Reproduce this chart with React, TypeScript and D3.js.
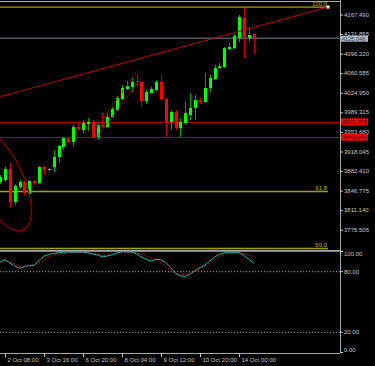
import React from 'react'
import * as d3 from 'd3'

// 4H candles, index 0 = the partly visible bar at the left edge
const opens = [3863.4, 3867.1, 3887.1, 3827.0, 3854.3, 3863.4, 3841.6, 3865.3, 3861.6, 3890.7, 3885.3, 3890.7, 3909.0, 3927.2, 3941.7, 3936.2, 3963.6, 3958.1, 3969.0, 3972.7, 3945.4, 3967.2, 3963.6, 3981.8, 3994.5, 4014.5, 4032.8, 4036.4, 4047.3, 4045.5, 4010.9, 4025.5, 4030.9, 4045.5, 4014.5, 3972.7, 3990.9, 3961.7, 3970.8, 3985.4, 3998.2, 4012.7, 4009.1, 4034.6, 4051.0, 4071.0, 4072.8, 4105.6, 4107.4, 4125.6, 4162.0, 4125.6, 4132.9]
const highs = [3876.3, 3890.7, 3898.0, 3859.8, 3867.1, 3865.3, 3867.1, 3867.1, 3892.6, 3892.6, 3888.9, 3921.7, 3930.8, 3945.4, 3945.4, 3967.2, 3970.8, 3976.3, 3980.0, 3976.3, 3970.8, 3989.1, 3987.3, 4000.0, 4020.0, 4040.0, 4047.3, 4052.8, 4060.1, 4047.3, 4030.9, 4036.4, 4049.2, 4058.3, 4016.4, 3994.5, 3994.5, 3980.0, 4009.1, 4025.5, 4021.8, 4016.4, 4061.9, 4058.3, 4076.5, 4080.1, 4109.2, 4116.5, 4132.9, 4167.5, 4180.2, 4145.6, 4133.5]
const lows = [3859.8, 3863.4, 3817.9, 3821.6, 3850.7, 3839.8, 3839.8, 3858.0, 3859.8, 3876.3, 3883.4, 3881.6, 3898.0, 3921.7, 3934.4, 3927.2, 3958.1, 3952.6, 3956.3, 3943.5, 3939.9, 3961.7, 3961.7, 3980.0, 3992.7, 4012.7, 4030.9, 4027.3, 4036.4, 4000.0, 4005.4, 4023.7, 4029.1, 4012.7, 3945.4, 3958.1, 3958.1, 3945.4, 3967.2, 3976.3, 3976.3, 4005.4, 4007.3, 4027.3, 4049.2, 4069.2, 4071.0, 4103.8, 4105.6, 4118.3, 4089.2, 4118.3, 4096.5]
const closes = [3872.5, 3887.1, 3827.0, 3856.2, 3863.4, 3843.4, 3865.3, 3861.6, 3890.7, 3885.3, 3887.1, 3909.0, 3929.0, 3943.5, 3936.2, 3963.6, 3959.9, 3970.8, 3972.7, 3945.4, 3967.2, 3965.4, 3981.8, 3996.3, 4016.4, 4034.6, 4038.2, 4045.5, 4045.5, 4010.9, 4027.3, 4032.8, 4045.5, 4014.5, 3972.7, 3990.9, 3961.7, 3972.7, 3989.1, 3998.2, 4012.7, 4009.1, 4034.6, 4052.8, 4071.0, 4074.6, 4107.4, 4109.2, 4129.3, 4163.8, 4125.6, 4131.1, 4125.046]

// stochastic oscillator
const stochMain = [89.6, 91.9, 88.6, 85.6, 83.2, 85.1, 86.3, 86.3, 91.1, 95.5, 97.2, 98.1, 98.7, 99.3, 99.5, 99.3, 99.3, 99.5, 98.7, 97.5, 96.5, 94.6, 95.5, 96.8, 98.5, 100, 99.5, 99.5, 97.5, 94.6, 92.3, 90.6, 92.1, 91.9, 88.9, 84.2, 78.2, 75.7, 75.4, 77.7, 81.2, 84.2, 86.6, 90.6, 94.6, 97.2, 98.8, 98.8, 98.8, 98.8, 96.0, 92.6, 88.3]
const stochSignal = [89.6, 90.6, 89.9, 87.6, 85.3, 84.4, 85.3, 86.9, 88.6, 91.6, 94.6, 96.5, 97.5, 98.0, 98.8, 99.2, 99.2, 99.0, 98.5, 98.0, 97.5, 96.0, 96.0, 97.2, 98.5, 99.0, 99.5, 99.5, 98.8, 97.0, 95.2, 93.6, 92.1, 89.1, 85.1, 81.2, 78.4, 77.0, 77.2, 78.7, 80.7, 83.0, 85.6, 88.6, 91.9, 95.0, 97.5, 98.8, 99.0, 99.0, 98.0, 96.5, 93.6]

const timeLabels = ['2 Oct 08:00', '3 Oct 16:00', '6 Oct 20:00', '8 Oct 04:00', '9 Oct 12:00', '10 Oct 20:00', '14 Oct 00:00']
const timeLabelBars = [1, 9, 17, 25, 33, 41, 49]

const priceTicks = [4167.49, 4131.855, 4096.22, 4060.585, 4024.95, 3989.315, 3953.68, 3918.045, 3882.41, 3846.775, 3811.14, 3775.505]
const stochTicks = [100, 80, 20, 0]
const stochDotted = [80, 20]

const redLines = [3973.255, 3945.043]
const fibLevels = [100, 61.8, 50]
const fibHigh = 4182.0
const fibLow = 3302.8
const fibEndBar = 67.26

// drawn objects, [bar, price]
const trendLine = [[0, 4018.7], [67.26, 4182.0]]
const channelUpper = [[18.64, 3947.2], [28.08, 4065.5]]
const channelLower = [[19.26, 3938.1], [29.1, 4054.6]]
const ellipseCenter = [0, 3867.1]

const axisX = 340
const font = 'Liberation Sans'

export default function App() {
  const x = d3.scaleLinear().domain([0, 52]).range([0.1, 253.6])
  const y = d3.scaleLinear().domain([3775.505, 4167.49]).range([230.3, 15])
  const sy = d3.scaleLinear().domain([0, 100]).range([352.5, 251.5])

  const stochPath = d3.line<number>().x((_, i) => x(i)).y(d => sy(d))
  const fibPrice = (lvl: number) => fibLow + (fibHigh - fibLow) * lvl / 100

  const candles = opens.map((o, i) => {
    const c = closes[i]
    const up = c >= o
    const cx = Math.round(x(i))
    const top = y(Math.max(o, c))
    const h = Math.max(1, Math.abs(y(o) - y(c)))
    return (
      <g key={i}>
        <line x1={cx + 0.5} x2={cx + 0.5} y1={y(highs[i])} y2={y(lows[i])}
          stroke={up ? '#00a800' : '#d00000'} strokeWidth={1} />
        <rect x={cx - 1} y={top} width={3} height={h} fill={up ? '#00ff00' : '#ff0000'} />
      </g>
    )
  })

  const seg = (p: number[][], color: string, w: number) => (
    <line x1={x(p[0][0])} y1={y(p[0][1])} x2={x(p[1][0])} y2={y(p[1][1])} stroke={color} strokeWidth={w} />
  )

  const bidY = y(closes[closes.length - 1])

  return (
    <div style={{ position: 'fixed', left: 0, top: 0 }}>
      <svg width={375} height={366} style={{ display: 'block', background: '#000' }} fontFamily={font}>
        <rect width={375} height={366} fill="#000" />

        {/* frame */}
        <line x1={0} x2={axisX} y1={1.5} y2={1.5} stroke="#a8a8a8" strokeWidth={1} />
        <line x1={axisX + 0.5} x2={axisX + 0.5} y1={0} y2={353} stroke="#a8a8a8" strokeWidth={1} />
        <line x1={0} x2={axisX} y1={353.5} y2={353.5} stroke="#a8a8a8" strokeWidth={1} />

        {/* horizontal lines */}
        {redLines.map(p => (
          <line key={p} x1={0} x2={axisX} y1={Math.round(y(p)) + 0.5} y2={Math.round(y(p)) + 0.5} stroke="#b00000" strokeWidth={1} />
        ))}
        <line x1={0} x2={axisX} y1={bidY} y2={bidY} stroke="#4e5864" strokeWidth={1.6} />

        {/* fibonacci levels */}
        {fibLevels.map(l => {
          const fy = y(fibPrice(l))
          return (
            <g key={l}>
              <line x1={0} x2={x(fibEndBar)} y1={fy} y2={fy} stroke="#a3a300" strokeWidth={1.3} />
              <text x={x(fibEndBar) - 1} y={fy - 1.5} fontSize={6} fill="#b8b800" textAnchor="end">{l.toFixed(1)}</text>
            </g>
          )
        })}

        {candles}

        {/* drawn objects */}
        {seg(trendLine, '#c00000', 1)}
        {seg(channelUpper, '#a00000', 0.8)}
        {seg(channelLower, '#a00000', 0.8)}
        <ellipse cx={x(ellipseCenter[0])} cy={y(ellipseCenter[1])} rx={23} ry={55}
          transform={`rotate(-25 ${x(ellipseCenter[0])} ${y(ellipseCenter[1])})`}
          fill="none" stroke="#900000" strokeWidth={1.3} />
        <rect x={x(trendLine[1][0]) - 1.5} y={y(trendLine[1][1]) - 1.5} width={3} height={3} fill="#fff" stroke="#ff4040" strokeWidth={0.5} />

        {/* separator */}
        <line x1={0} x2={axisX} y1={250.8} y2={250.8} stroke="#a8a8a8" strokeWidth={1.8} />

        {/* stochastic */}
        {stochDotted.map(l => (
          <line key={l} x1={0} x2={axisX} y1={sy(l)} y2={sy(l)} stroke="#c8c8c8" strokeWidth={0.8} strokeDasharray="1.2,1.8" />
        ))}
        <path d={stochPath(stochSignal) || ''} fill="none" stroke="#ff1a1a" strokeWidth={1} strokeDasharray="1.4,2" />
        <path d={stochPath(stochMain) || ''} fill="none" stroke="#20b2aa" strokeWidth={1} />

        {/* price axis */}
        {priceTicks.map(p => (
          <g key={p}>
            <line x1={axisX} x2={axisX + 3} y1={y(p)} y2={y(p)} stroke="#c8c8c8" />
            <text x={axisX + 4} y={y(p) + 1.6} fontSize={6} fill="#c8c8c8">{p.toFixed(3)}</text>
          </g>
        ))}
        {redLines.map(p => (
          <g key={p}>
            <rect x={axisX + 1} y={y(p) - 3.3} width={27} height={6.8} fill="#ff0000" />
            <text x={axisX + 2} y={y(p) + 2} fontSize={6} fill="#200000">{p.toFixed(3)}</text>
          </g>
        ))}
        <rect x={axisX + 1} y={bidY - 2.6} width={27} height={6} fill="#a9b6c4" />
        <text x={axisX + 2} y={bidY + 2.2} fontSize={5.6} fill="#3a444e">{closes[closes.length - 1].toFixed(3)}</text>

        {/* stochastic axis */}
        {stochTicks.map(l => {
          const ty = sy(l)
          const off = l === 100 ? 2.5 : l === 0 ? -2.5 : 0
          return (
            <g key={l}>
              <line x1={axisX} x2={axisX + 3} y1={ty} y2={ty} stroke="#c8c8c8" />
              <text x={axisX + 4} y={ty + off + 2} fontSize={6} fill="#c8c8c8">{l.toFixed(2)}</text>
            </g>
          )
        })}

        {/* time axis */}
        {timeLabels.map((t, i) => {
          const tx = Math.round(x(timeLabelBars[i])) + 0.5
          return (
            <g key={t}>
              <line x1={tx} x2={tx} y1={353} y2={357} stroke="#c8c8c8" />
              <text x={tx + 2} y={361.5} fontSize={6} fill="#c8c8c8">{t}</text>
            </g>
          )
        })}
      </svg>
    </div>
  )
}
